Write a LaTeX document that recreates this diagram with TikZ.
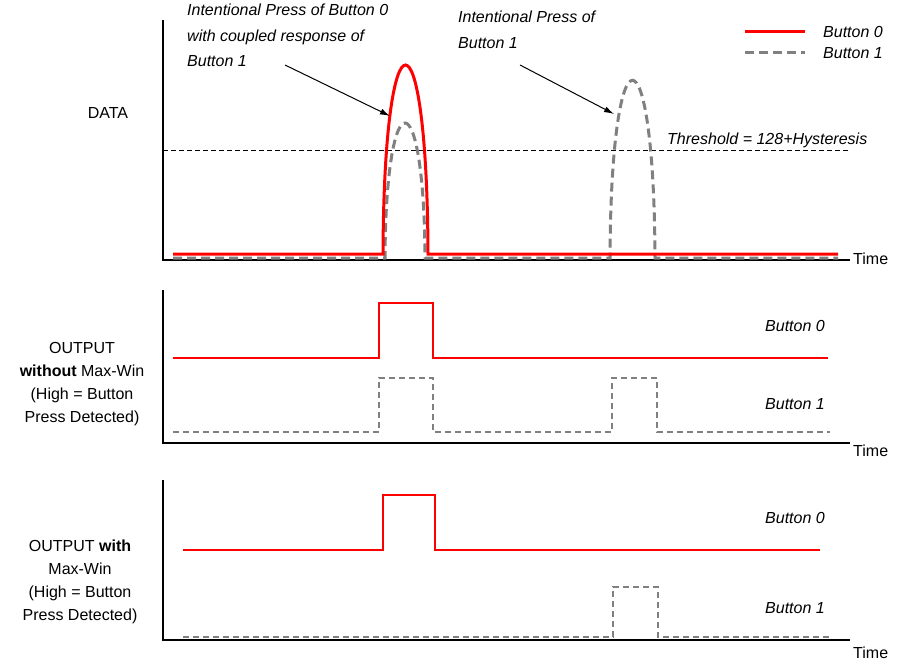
\documentclass[tikz,border=0pt]{standalone}
\usepackage{fontspec}
\setmainfont{Liberation Sans}
\usetikzlibrary{arrows.meta}
\begin{document}
\begin{tikzpicture}[x=1pt,y=-1pt,font=\fontsize{16}{23}\selectfont,
  axis/.style={line width=1.5pt},
  redl/.style={red,line width=3pt},
  redo/.style={red,line width=2pt},
  grayl/.style={gray,dash pattern=on 9pt off 5pt,line width=3pt},
  grayo/.style={gray,dash pattern=on 6pt off 4pt,line width=2pt},
  lbl/.style={inner sep=0pt,font=\fontsize{16}{23}\selectfont\itshape},
  ann/.style={-{Latex[length=10pt,width=6pt]},line width=1pt}]
\useasboundingbox (0,0) rectangle (915,666);
% panel 1
\draw[axis] (163,20) -- (163,260) -- (850,260);
\node[anchor=west,inner sep=0pt] (t1) at (853,259) {Time};
\node (data) at (108,113) {DATA};
\draw[dash pattern=on 5pt off 3pt,line width=0.8pt] (163,150) -- (850,150);
\node[lbl,anchor=west] (thr) at (667,140) {Threshold = 128+Hysteresis};
\draw[grayl] (173,258) -- (385,258) .. controls (386,78) and (424,78) .. (425,258) -- (610,258)
  .. controls (611,21) and (654,21) .. (655,258) -- (838,258);
\draw[redl] (173,254) -- (383,254) .. controls (384,2) and (427,2) .. (428,254) -- (838,254);
\draw[redl] (745,32) -- (805,32);
\node[lbl,anchor=west] (l0) at (823,32) {Button 0};
\draw[grayl] (745,53) -- (805,53);
\node[lbl,anchor=west] (l1) at (823,53) {Button 1};
\node[lbl,anchor=north west,align=left,font=\fontsize{16}{25.5}\selectfont\itshape] (a1) at (187,4) {Intentional Press of Button 0\\with coupled response of\\Button 1};
\node[lbl,anchor=north west,align=left,font=\fontsize{16}{25.5}\selectfont\itshape] (a2) at (458,11) {Intentional Press of\\Button 1};
\coordinate (p1) at (390,116);
\coordinate (p2) at (614,114);
\draw[ann] (285,65) -- (p1);
\draw[ann] (520,65) -- (p2);
% panel 2
\draw[axis] (163,290) -- (163,443) -- (850,443);
\node[anchor=west,inner sep=0pt] (t2) at (853,451) {Time};
\draw[redo] (173,358) -- (379,358) -- (379,303) -- (433,303) -- (433,358) -- (828,358);
\draw[grayo] (173,432) -- (379,432) -- (379,378) -- (433,378) -- (433,432) -- (612,432) -- (612,378) -- (657,378) -- (657,432) -- (830,432);
\node[lbl] (b20) at (795,326) {Button 0};
\node[lbl] (b21) at (795,404) {Button 1};
\node[align=center] (o2) at (82,384) {OUTPUT\\\textbf{without} Max-Win\\(High = Button\\Press Detected)};
% panel 3
\draw[axis] (163,480) -- (163,640) -- (850,640);
\node[anchor=west,inner sep=0pt] (t3) at (853,653) {Time};
\draw[redo] (183,550) -- (383,550) -- (383,495) -- (435,495) -- (435,550) -- (820,550);
\draw[grayo] (183,637) -- (613,637) -- (613,587) -- (658,587) -- (658,637) -- (830,637);
\node[lbl] (b30) at (795,518) {Button 0};
\node[lbl] (b31) at (795,608) {Button 1};
\node[align=center] (o3) at (80,582) {OUTPUT \textbf{with}\\Max-Win\\(High = Button\\Press Detected)};
\end{tikzpicture}
\end{document}
